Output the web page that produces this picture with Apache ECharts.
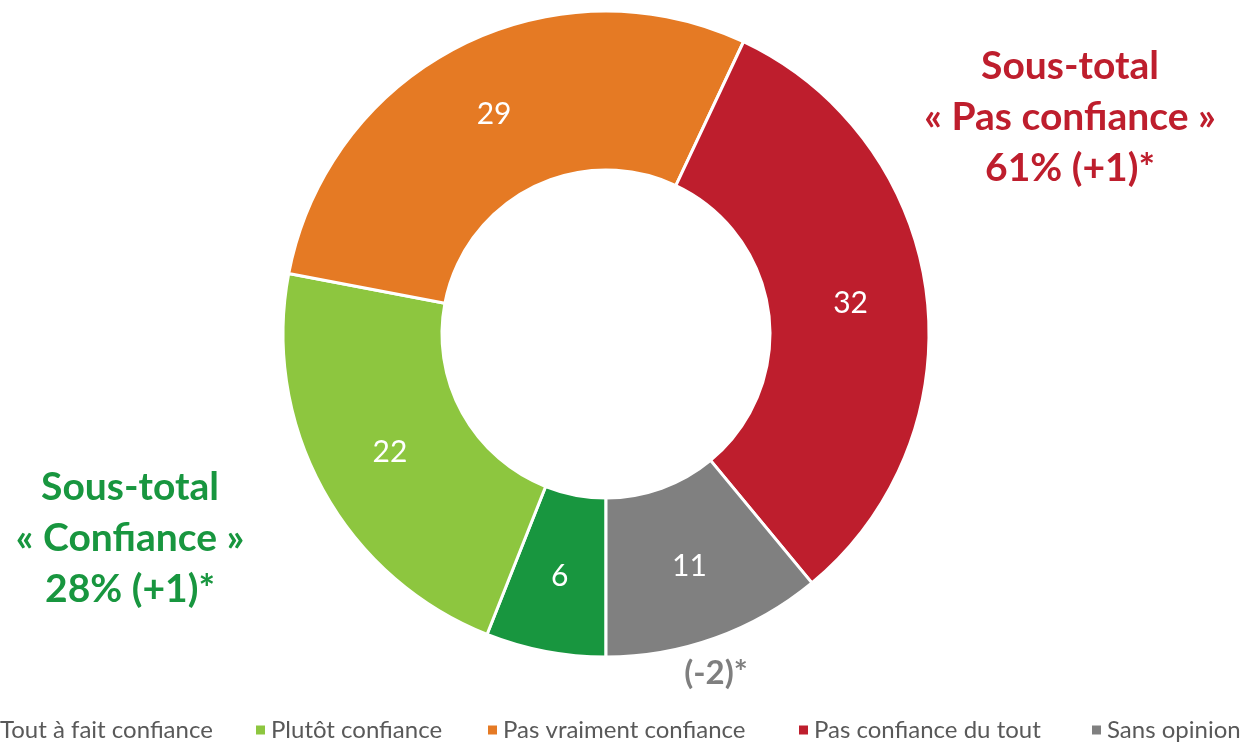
<!doctype html>
<html lang="fr">
	<head>
		<meta charset="UTF-8">
		<title>Confiance</title>
		<script src="https://cdn.jsdelivr.net/npm/echarts@6/dist/echarts.min.js"></script>
		<style>
			html, body { margin: 0; padding: 0; background: #fff; }
			#chart { width: 1247px; height: 743px; }
		</style>
	</head>
	<body>
		<div id="chart"></div>
		<script>
			// données
			const categories = ['Tout à fait confiance', 'Plutôt confiance', 'Pas vraiment confiance', 'Pas confiance du tout', 'Sans opinion']
			const values = [6, 22, 29, 32, 11]
			const colors = ['#18963F', '#8DC63F', '#E57A24', '#BE1E2D', '#808080']
			const subTotalPas = ['Sous-total', '« Pas confiance »', '61% (+1)*']
			const subTotalConf = ['Sous-total', '« Confiance »', '28% (+1)*']
			const evolSansOpinion = '(-2)*'

			let font = 'Lato, "Open Sans", sans-serif'
			let mCharts = echarts.init(document.getElementById('chart'))

			let pieData = []
			for (let i = 0; i < categories.length; i++) {
				pieData.push({
					name: categories[i],
					value: values[i],
					itemStyle: { color: colors[i] }
				})
			}

			// une légende par entrée pour caler les positions
			let legendLeft = [-22, 249, 481, 792, 1085]
			let legends = categories.map((name, i) => ({
				data: [name],
				left: legendLeft[i],
				top: 713,
				itemWidth: 11,
				itemHeight: 11,
				icon: 'rect',
				textStyle: {
					fontFamily: font,
					fontSize: 24,
					color: '#595959'
				}
			}))

			let option = {
				animation: false,
				legend: legends,
				graphic: [
					{
						type: 'text',
						x: 1070,
						y: 117,
						style: {
							text: subTotalPas.join('\n'),
							fill: '#BE1E2D',
							font: 'bold 39px ' + font,
							lineHeight: 51,
							align: 'center',
							verticalAlign: 'middle'
						}
					},
					{
						type: 'text',
						x: 130,
						y: 538,
						style: {
							text: subTotalConf.join('\n'),
							fill: '#18963F',
							font: 'bold 39px ' + font,
							lineHeight: 51,
							align: 'center',
							verticalAlign: 'middle'
						}
					},
					{
						type: 'text',
						x: 716,
						y: 673,
						style: {
							text: evolSansOpinion,
							fill: '#7F7F7F',
							font: 'bold 33px ' + font,
							align: 'center',
							verticalAlign: 'middle'
						}
					}
				],
				series: [{
					type: 'pie',
					center: [606, 334],
					radius: [164, 323],
					startAngle: -90,
					clockwise: true,
					avoidLabelOverlap: false,
					emphasis: { disabled: true },
					itemStyle: {
						borderColor: '#fff',
						borderWidth: 3
					},
					label: {
						show: true,
						position: 'inside',
						formatter: '{c}',
						color: '#fff',
						fontFamily: font,
						fontSize: 30
					},
					labelLine: { show: false },
					data: pieData
				}]
			}
			mCharts.setOption(option)
		</script>
	</body>
</html>
